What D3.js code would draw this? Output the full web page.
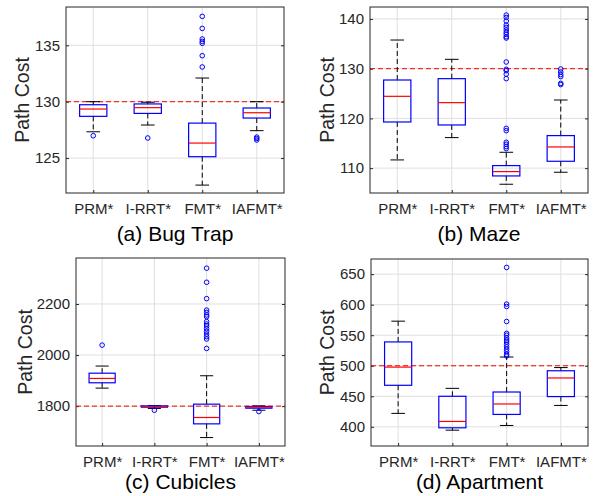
<!DOCTYPE html>
<html>
<head>
<meta charset="utf-8">
<script src="https://cdnjs.cloudflare.com/ajax/libs/d3/7.8.5/d3.min.js"></script>
<style>
  body { margin: 0; background: #fff; }
  svg text { font-family: "Liberation Sans", Arial, sans-serif; fill: #262626; }
</style>
</head>
<body>
<svg width="595" height="496"></svg>
<script>
var categories = ["PRM*", "I-RRT*", "FMT*", "IAFMT*"];

// box stats per method: [lower whisker, q1, median, q3, upper whisker]
var bugTrapStats = [
  [127.33, 128.7, 129.35, 129.73, 130.0],
  [127.93, 128.96, 129.47, 129.8, 129.95],
  [122.6, 125.12, 126.33, 128.1, 132.1],
  [127.43, 128.55, 129.02, 129.44, 130.0]
];
var bugTrapOutliers = [
  [126.98],
  [126.78],
  [137.57, 136.5, 135.56, 135.35, 135.18, 134.08, 133.08],
  [126.86, 126.74, 126.6]
];
var bugTrapTicks = [125, 130, 135];

var mazeStats = [
  [111.65, 119.28, 124.44, 127.72, 135.76],
  [116.14, 118.68, 123.17, 127.99, 131.88],
  [106.76, 108.43, 109.3, 110.51, 113.19],
  [109.17, 111.38, 114.26, 116.54, 123.7]
];
var mazeOutliers = [
  [],
  [],
  [140.78, 140.3, 139.58, 138.77, 138.3, 137.77, 137.3, 136.9, 136.43, 136.16,
   131.34, 129.87, 129.6, 128.9, 128.0, 118.0, 117.54, 115.2, 114.8, 114.33, 113.93],
  [129.93, 129.33, 128.8, 128.4, 127.05, 126.8]
];
var mazeTicks = [110, 120, 130, 140];

var cubiclesStats = [
  [1870.6, 1891.5, 1908.5, 1929, 1957],
  [1791, 1796, 1798.7, 1801, 1802.6],
  [1677, 1730.7, 1755.6, 1807.8, 1919],
  [1784, 1792, 1796, 1798.7, 1801]
];
var cubiclesOutliers = [
  [2039],
  [1784],
  [2340, 2285, 2221, 2176, 2167, 2157, 2150, 2131, 2121.6, 2114, 2103, 2093,
   2082, 2072, 2063, 2026],
  [1779]
];
var cubiclesTicks = [1800, 2000, 2200];

var apartmentStats = [
  [422, 468, 497.8, 539, 573],
  [394.5, 398.4, 408.8, 450, 463],
  [402.2, 420.3, 437.4, 457, 514.3],
  [435, 449.5, 480, 491.8, 497]
];
var apartmentOutliers = [
  [],
  [],
  [661, 601, 597, 572.5, 553, 550, 545.6, 542, 539, 535, 531, 527, 523, 518.7, 516],
  []
];
var apartmentTicks = [400, 450, 500, 550, 600, 650];

var panels = [
  {title: "(a) Bug Trap", stats: bugTrapStats, outliers: bugTrapOutliers, ticks: bugTrapTicks,
   domain: [121.9, 138.4], ref: 130, x0: 66, x1: 284, y0: 7, y1: 193, labelX: 22, titleY: 234},
  {title: "(b) Maze", stats: mazeStats, outliers: mazeOutliers, ticks: mazeTicks,
   domain: [105.0, 142.4], ref: 130, x0: 370, x1: 588, y0: 7, y1: 193, labelX: 327, titleY: 234},
  {title: "(c) Cubicles", stats: cubiclesStats, outliers: cubiclesOutliers, ticks: cubiclesTicks,
   domain: [1644, 2380], ref: 1800, x0: 76, x1: 285, y0: 258, y1: 446, labelX: 25, titleY: 482},
  {title: "(d) Apartment", stats: apartmentStats, outliers: apartmentOutliers, ticks: apartmentTicks,
   domain: [368.6, 674.8], ref: 500, x0: 371, x1: 588, y0: 259, y1: 446, labelX: 327, titleY: 482}
];

var svg = d3.select("svg");

panels.forEach(function(p) {
  var x = d3.scaleLinear().domain([0.5, 4.5]).range([p.x0, p.x1]);
  var y = d3.scaleLinear().domain(p.domain).range([p.y1, p.y0]);
  var g = svg.append("g");

  // grid
  g.selectAll(".hgrid").data(p.ticks).enter().append("line")
    .attr("x1", p.x0).attr("x2", p.x1)
    .attr("y1", function(d) { return y(d); }).attr("y2", function(d) { return y(d); })
    .attr("stroke", "#dfdfdf").attr("stroke-width", 1);
  g.selectAll(".vgrid").data(categories).enter().append("line")
    .attr("x1", function(d, i) { return x(i + 1); }).attr("x2", function(d, i) { return x(i + 1); })
    .attr("y1", p.y0).attr("y2", p.y1)
    .attr("stroke", "#dfdfdf").attr("stroke-width", 1);

  // axes
  var yAxis = d3.axisLeft(y).tickValues(p.ticks).tickFormat(d3.format("d"))
    .tickSizeInner(-3).tickSizeOuter(0).tickPadding(6);
  var ya = g.append("g").attr("transform", "translate(" + p.x0 + ",0)").call(yAxis);
  ya.select(".domain").remove();
  ya.selectAll("line").attr("stroke", "#262626");
  ya.selectAll("text").style("font-size", "15px").style("fill", "#262626");

  var yAxisR = d3.axisRight(y).tickValues(p.ticks).tickSizeInner(-3).tickSizeOuter(0).tickFormat("");
  var yr = g.append("g").attr("transform", "translate(" + p.x1 + ",0)").call(yAxisR);
  yr.select(".domain").remove();
  yr.selectAll("line").attr("stroke", "#262626");

  var xAxis = d3.axisBottom(x).tickValues([1, 2, 3, 4]).tickSizeInner(-3).tickSizeOuter(0).tickPadding(10)
    .tickFormat(function(d) { return categories[d - 1]; });
  var xa = g.append("g").attr("transform", "translate(0," + p.y1 + ")").call(xAxis);
  xa.select(".domain").remove();
  xa.selectAll("line").attr("stroke", "#262626");
  xa.selectAll("text").style("font-size", "15px").style("fill", "#262626");

  // reference line
  g.append("line")
    .attr("x1", p.x0).attr("x2", p.x1)
    .attr("y1", y(p.ref)).attr("y2", y(p.ref))
    .attr("stroke", "#ff0000").attr("stroke-width", 1).attr("stroke-dasharray", "5,3");

  var halfBox = (x(1.25) - x(1));
  var halfCap = (x(1.125) - x(1));

  var box = g.selectAll(".box").data(p.stats).enter().append("g");
  // whiskers
  box.append("line")
    .attr("x1", function(d, i) { return x(i + 1); }).attr("x2", function(d, i) { return x(i + 1); })
    .attr("y1", function(d) { return y(d[3]); }).attr("y2", function(d) { return y(d[4]); })
    .attr("stroke", "#000").attr("stroke-dasharray", "5,3");
  box.append("line")
    .attr("x1", function(d, i) { return x(i + 1); }).attr("x2", function(d, i) { return x(i + 1); })
    .attr("y1", function(d) { return y(d[1]); }).attr("y2", function(d) { return y(d[0]); })
    .attr("stroke", "#000").attr("stroke-dasharray", "5,3");
  // caps
  [0, 4].forEach(function(k) {
    box.append("line")
      .attr("x1", function(d, i) { return x(i + 1) - halfCap; })
      .attr("x2", function(d, i) { return x(i + 1) + halfCap; })
      .attr("y1", function(d) { return y(d[k]); }).attr("y2", function(d) { return y(d[k]); })
      .attr("stroke", "#000").attr("stroke-width", 1);
  });
  // box
  box.append("rect")
    .attr("x", function(d, i) { return x(i + 1) - halfBox; })
    .attr("width", halfBox * 2)
    .attr("y", function(d) { return y(d[3]); })
    .attr("height", function(d) { return Math.max(1, y(d[1]) - y(d[3])); })
    .attr("fill", "none").attr("stroke", "#0000ff").attr("stroke-width", 1.2);
  // median
  box.append("line")
    .attr("x1", function(d, i) { return x(i + 1) - halfBox; })
    .attr("x2", function(d, i) { return x(i + 1) + halfBox; })
    .attr("y1", function(d) { return y(d[2]); }).attr("y2", function(d) { return y(d[2]); })
    .attr("stroke", "#ff0000").attr("stroke-width", 1.2);

  // outliers
  p.outliers.forEach(function(list, i) {
    g.selectAll(".out" + i).data(list).enter().append("circle")
      .attr("cx", x(i + 1)).attr("cy", function(d) { return y(d); })
      .attr("r", 2.3).attr("fill", "none").attr("stroke", "#0000ff").attr("stroke-width", 1);
  });

  // frame
  g.append("rect")
    .attr("x", p.x0).attr("y", p.y0)
    .attr("width", p.x1 - p.x0).attr("height", p.y1 - p.y0)
    .attr("fill", "none").attr("stroke", "#262626").attr("stroke-width", 1);

  // labels
  g.append("text")
    .attr("transform", "translate(" + p.labelX + "," + ((p.y0 + p.y1) / 2) + ") rotate(-90)")
    .attr("text-anchor", "middle").attr("dy", "0.35em")
    .style("font-size", "19.5px")
    .text("Path Cost");
  g.append("text")
    .attr("x", (p.x0 + p.x1) / 2).attr("y", p.titleY)
    .attr("text-anchor", "middle").attr("dy", "0.35em")
    .style("font-size", "21px").style("fill", "#000")
    .text(p.title);
});
</script>
</body>
</html>
